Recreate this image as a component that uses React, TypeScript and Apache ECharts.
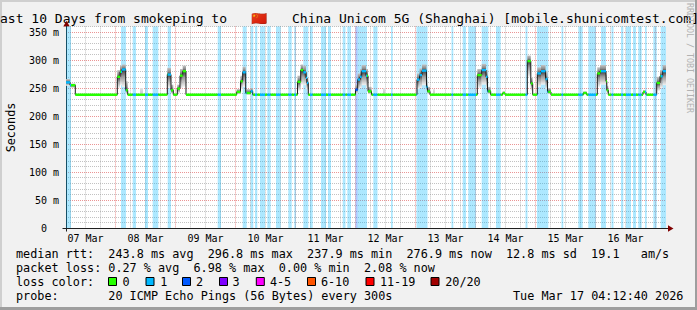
import React, { useEffect, useRef } from 'react';
import * as echarts from 'echarts';

// x axis: hours since Mar 7 00:00 (window: Mar 7 04:12:40 -> Mar 17 04:12:40)
const START_HOUR = 4.2111;
const END_HOUR = 244.2111;
const Y_MAX = 360;

const xLabelHours = [12, 36, 60, 84, 108, 132, 156, 180, 204, 228];
const xTickLabels = ['07 Mar', '08 Mar', '09 Mar', '10 Mar', '11 Mar', '12 Mar', '13 Mar', '14 Mar', '15 Mar', '16 Mar'];

// median RTT (ms), step values starting at each time
const medianTimes = [
  4.21, 5.81, 7.93, 24.73, 25.81, 26.61, 28.09, 28.89, 44.73, 46.21, 47.13, 48.73, 49.81, 50.89, 52.21,
  72.49, 74.01, 74.89, 76.09, 78.09, 78.89, 96.81, 98.09, 99.13, 100.21, 100.61, 101.13,
  120.01, 120.89, 121.81, 122.49, 124.21, 125.01, 126.41, 144.61, 145.61, 146.61, 148.41, 148.81, 149.81,
  168.73, 170.49, 172.21, 172.81, 174.09, 178.89, 179.81, 188.73, 190.13, 190.89, 192.73, 194.21, 196.01, 196.81, 198.21,
  211.13, 212.49, 216.73, 217.81, 220.21, 220.53, 221.13, 235.01, 236.21, 240.49, 241.81, 242.89,
];
const medianValues = [
  260, 255, 238, 270, 279, 283, 246, 238, 274, 246, 238, 249, 272, 280, 238,
  243, 262, 278, 241, 244, 238, 261, 282, 278, 268, 259, 238,
  247, 265, 270, 280, 272, 244, 238, 265, 273, 281, 252, 244, 238,
  273, 282, 270, 244, 238, 241, 238, 298, 258, 238, 276, 280, 266, 243, 238,
  241, 238, 276, 280, 262, 246, 238, 243, 238, 259, 271, 280,
];
// smoke (ping spread) around each median step; null = no visible smoke
const smokeHigh = [
  266, 258, null, 282, 290, 292, 262, null, 286, 256, null, 256, 284, 290, null,
  248, 272, 288, 248, 250, null, 272, 292, 290, 280, 268, null,
  256, 276, 284, 291, 284, 252, null, 276, 285, 292, 264, 252, null,
  284, 293, 282, 252, null, 244, null, 308, 268, null, 287, 291, 280, 250, null,
  244, null, 287, 291, 274, 254, null, 246, null, 270, 282, 291,
];
const smokeLow = [
  254, 250, null, 250, 255, 252, 240, null, 250, 240, null, 241, 250, 252, null,
  239, 248, 252, 238, 240, null, 245, 256, 255, 248, 244, null,
  240, 248, 250, 255, 250, 239, null, 248, 250, 255, 244, 239, null,
  250, 256, 250, 239, null, 239, null, 270, 245, null, 252, 256, 248, 239, null,
  239, null, 252, 256, 246, 240, null, 239, null, 245, 250, 255,
];
// isolated light smoke blips on the baseline
const blipStart = [33.8, 131.0, 151.0];
const blipEnd = [35.0, 131.8, 151.8];
const blipHigh = [250, 250, 248];

// packet-loss periods (background bands)
const lossStart = [
  4.21, 26.21, 30.89, 35.81, 38.89, 44.89, 64.89, 74.89, 78.09, 79.81, 81.81, 84.73, 88.21, 93.13, 95.53,
  99.13, 101.81, 106.21, 109.01, 114.89, 116.73, 120.01, 120.89, 127.13, 134.21, 144.41, 158.41, 162.89,
  165.13, 170.49, 176.21, 188.01, 192.61, 202.41, 209.13, 213.13, 218.21, 222.41, 226.21, 228.21, 231.01,
  233.13, 235.81, 239.13, 242.09,
];
const lossEnd = [
  6.21, 28.21, 32.21, 37.01, 41.13, 46.21, 66.21, 76.49, 79.13, 80.73, 83.81, 86.09, 90.09, 94.49, 96.21,
  101.13, 102.89, 108.21, 110.21, 116.01, 118.21, 120.89, 124.61, 128.81, 134.89, 148.81, 159.13, 164.21,
  168.21, 173.13, 178.09, 188.81, 197.13, 203.13, 210.89, 216.21, 220.21, 223.21, 227.13, 230.21, 232.21,
  234.49, 236.49, 240.49, 244.21,
];
const lossLevel = [
  1, 1, 1, 1, 1, 1, 1, 1, 1, 1, 1, 1, 1, 1, 1,
  1, 1, 1, 1, 1, 1, 2, 1, 1, 1, 1, 1, 1,
  1, 1, 1, 1, 1, 1, 1, 1, 1, 1, 1, 1, 1,
  1, 1, 1, 1,
];

const lossColors = ['#26ff00', '#00b8ff', '#0059ff', '#7e00ff', '#ff00ff', '#ff5500', '#ff0000', '#a10000'];
const lossBandColors = ['rgba(38,255,0,0.32)', 'rgba(0,184,255,0.32)', 'rgba(0,89,255,0.32)', 'rgba(126,0,255,0.32)',
  'rgba(255,0,255,0.32)', 'rgba(255,85,0,0.32)', 'rgba(255,0,0,0.32)', 'rgba(161,0,0,0.32)'];
const lossLabels = ['0', '1', '2', '3', '4-5', '6-10', '11-19', '20/20'];

const statsRow1: [number, string][] = [[0, 'median rtt:'], [13, '243.8 ms avg'], [27, '296.8 ms max'], [41, '237.9 ms min'],
  [55, '276.9 ms now'], [69, '12.8 ms sd'], [81, '19.1'], [88, 'am/s']];
const statsRow2: [number, string][] = [[0, 'packet loss:'], [13, '0.27 % avg'], [25, '6.98 % max'], [37, '0.00 % min'], [49, '2.08 % now']];
const statsRow4: [number, string][] = [[0, 'probe:'], [13, '20 ICMP Echo Pings (56 Bytes) every 300s'], [70, 'Tue Mar 17 04:12:40 2026']];

const TITLE_LEFT = 'Last 10 Days from smokeping to';
const TITLE_FLAG = '🇨🇳';
const TITLE_RIGHT = 'China Unicom 5G (Shanghai) [mobile.shunicomtest.com]';

const MONO = '"DejaVu Sans Mono", monospace';
const MINOR = 'rgba(143,143,143,0.55)';
const MAJOR = 'rgba(222,79,79,0.6)';

function levelAt(t: number): number {
  for (let i = 0; i < lossStart.length; i++) {
    if (t >= lossStart[i] && t < lossEnd[i]) return lossLevel[i];
  }
  return 0;
}

function buildOption() {
  const nextTime = (i: number) => (i + 1 < medianTimes.length ? medianTimes[i + 1] : END_HOUR);

  const lineData: number[][] = medianTimes.map((t, i) => [t, medianValues[i]]);
  lineData.push([END_HOUR, medianValues[medianValues.length - 1]]);

  // coloured median pieces split at loss band boundaries
  const pieces: number[][] = [];
  medianTimes.forEach((t0, i) => {
    const t1 = nextTime(i);
    const cuts = [t0, t1];
    lossStart.concat(lossEnd).forEach((b) => { if (b > t0 && b < t1) cuts.push(b); });
    cuts.sort((a, b) => a - b);
    for (let k = 0; k < cuts.length - 1; k++) {
      const a = cuts[k], b = cuts[k + 1];
      if (b - a <= 0) continue;
      pieces.push([a, b, medianValues[i], levelAt((a + b) / 2)]);
    }
  });

  const smoke: number[][] = [];
  medianTimes.forEach((t0, i) => {
    const hi = smokeHigh[i], lo = smokeLow[i];
    if (hi == null || lo == null) return;
    smoke.push([t0, nextTime(i), lo, hi, medianValues[i]]);
  });
  const blips = blipStart.map((s, i) => [s, blipEnd[i], blipHigh[i]]);

  const bands = lossStart.map((s, i) => [s, lossEnd[i], lossLevel[i]]);

  const gridHours: number[][] = [];
  for (let h = 6; h < END_HOUR; h += 6) gridHours.push([h, h % 24 === 0 ? 1 : 0]);

  const graphic: any[] = [];
  // frame shading
  graphic.push({ type: 'rect', shape: { x: 0, y: 0, width: 697, height: 2 }, style: { fill: '#cfcfcf' }, silent: true });
  graphic.push({ type: 'rect', shape: { x: 0, y: 0, width: 2, height: 310 }, style: { fill: '#cfcfcf' }, silent: true });
  graphic.push({ type: 'rect', shape: { x: 695, y: 0, width: 2, height: 310 }, style: { fill: '#9e9e9e' }, silent: true });
  graphic.push({ type: 'rect', shape: { x: 0, y: 307, width: 697, height: 3 }, style: { fill: '#9e9e9e' }, silent: true });
  // title (clipped on both sides like the original)
  graphic.push({ type: 'text', x: -7.8, y: 18.8, silent: true,
    style: {
      text: `{a|${TITLE_LEFT}}{f|${TITLE_FLAG}}{a|${TITLE_RIGHT}}`,
      font: `13px ${MONO}`, fill: '#000', align: 'left', verticalAlign: 'middle',
      rich: {
        a: { fontFamily: MONO, fontSize: 13, fill: '#000' },
        f: { fontFamily: MONO, fontSize: 13, width: 65, align: 'center' },
      },
    } });
  // y axis name
  graphic.push({ type: 'text', x: 11, y: 127.5, rotation: Math.PI / 2, silent: true,
    style: { text: 'Seconds', font: `11.8px ${MONO}`, fill: '#000', align: 'center', verticalAlign: 'middle' } });
  // watermark
  graphic.push({ type: 'text', x: 689.5, y: 58, rotation: -Math.PI / 2, silent: true,
    style: { text: 'RRDTOOL / TOBI OETIKER', font: `8.3px ${MONO}`, fill: '#b2b2b2', align: 'center', verticalAlign: 'middle' } });
  // axis extensions and arrows
  graphic.push({ type: 'line', shape: { x1: 62.5, y1: 228.5, x2: 669, y2: 228.5 }, style: { stroke: '#1f1f1f', lineWidth: 1 }, silent: true });
  graphic.push({ type: 'line', shape: { x1: 66.5, y1: 231.5, x2: 66.5, y2: 22 }, style: { stroke: '#1f1f1f', lineWidth: 1 }, silent: true });
  graphic.push({ type: 'polygon', shape: { points: [[668, 225.3], [673.5, 228.5], [668, 231.7]] }, style: { fill: '#800000' }, silent: true });
  graphic.push({ type: 'polygon', shape: { points: [[63.3, 26.5], [66.5, 20.8], [69.7, 26.5]] }, style: { fill: '#800000' }, silent: true });

  const CH = 7.1;
  const rowY = [253.7, 267.7, 281.7, 295.7];
  const addRow = (row: [number, string][], y: number) => {
    row.forEach(([col, txt]) => {
      graphic.push({ type: 'text', x: 16 + col * CH, y, silent: true,
        style: { text: txt, font: `11.8px ${MONO}`, fill: '#000', align: 'left', verticalAlign: 'middle' } });
    });
  };
  addRow(statsRow1, rowY[0]);
  addRow(statsRow2, rowY[1]);
  addRow([[0, 'loss color:']], rowY[2]);
  addRow(statsRow4, rowY[3]);
  const boxX = [108, 145.5, 182, 219, 255.8, 307, 365.5, 430.5];
  const labX = [122.5, 160.2, 195.9, 232.5, 269.9, 320.9, 379.9, 445.2];
  lossLabels.forEach((lab, i) => {
    graphic.push({ type: 'rect', shape: { x: boxX[i] + 0.5, y: 277.5, width: 8, height: 8 }, silent: true,
      style: { fill: lossColors[i], stroke: '#000', lineWidth: 1 } });
    graphic.push({ type: 'text', x: labX[i], y: rowY[2], silent: true,
      style: { text: lab, font: `11.8px ${MONO}`, fill: '#000', align: 'left', verticalAlign: 'middle' } });
  });

  return {
    animation: false,
    backgroundColor: '#f1f1f1',
    grid: { left: 66, right: 31, top: 26.4, bottom: 82, show: true, backgroundColor: '#ffffff', borderWidth: 0, containLabel: false },
    xAxis: {
      type: 'value', min: START_HOUR, max: END_HOUR,
      axisLine: { show: true, onZero: false, lineStyle: { color: '#1f1f1f', width: 1 } },
      axisTick: { show: false },
      splitLine: { show: false },
      axisLabel: {
        customValues: xLabelHours,
        formatter: (v: number) => {
          const idx = xLabelHours.indexOf(Math.round(v));
          return idx >= 0 ? xTickLabels[idx] : '';
        },
        fontFamily: MONO, fontSize: 10, color: '#000', margin: 5,
      },
    },
    yAxis: {
      type: 'value', min: 0, max: Y_MAX, interval: 10,
      axisLine: { show: true, lineStyle: { color: '#1f1f1f', width: 1 } },
      axisTick: { show: false },
      axisLabel: {
        formatter: (v: number) => (v % 50 === 0 ? (v === 0 ? '0  ' : `${v} m`) : ''),
        fontFamily: MONO, fontSize: 10, color: '#000', margin: 7,
      },
      splitLine: { show: true, lineStyle: { color: [MAJOR, MINOR, MINOR, MINOR, MINOR], type: [1, 1], width: 1 } },
    },
    series: [
      {
        type: 'custom', name: 'vgrid', silent: true, z: 1, data: gridHours,
        renderItem: (_p: any, api: any) => {
          const h = api.value(0);
          const top = api.coord([h, Y_MAX]);
          const bot = api.coord([h, 0]);
          const x = Math.round(top[0]) + 0.5;
          return { type: 'line', shape: { x1: x, y1: top[1], x2: x, y2: bot[1] },
            style: { stroke: api.value(1) ? MAJOR : MINOR, lineWidth: 1, lineDash: [1, 1] } };
        },
      },
      {
        type: 'custom', name: 'loss', silent: true, z: 2, data: bands,
        renderItem: (_p: any, api: any) => {
          const p0 = api.coord([api.value(0), Y_MAX]);
          const p1 = api.coord([api.value(1), 0]);
          return { type: 'rect', shape: { x: p0[0], y: p0[1], width: Math.max(1, p1[0] - p0[0]), height: p1[1] - p0[1] },
            style: { fill: lossBandColors[api.value(2)] } };
        },
      },
      {
        type: 'custom', name: 'blips', silent: true, z: 3, data: blips,
        renderItem: (_p: any, api: any) => {
          const p0 = api.coord([api.value(0), api.value(2)]);
          const p1 = api.coord([api.value(1), 239]);
          return { type: 'rect', shape: { x: p0[0], y: p0[1], width: p1[0] - p0[0], height: p1[1] - p0[1] },
            style: { fill: new echarts.graphic.LinearGradient(0, 0, 0, 1, [
              { offset: 0, color: '#e4e4e4' }, { offset: 1, color: '#c8c8c8' }]) } };
        },
      },
      {
        type: 'custom', name: 'smoke', silent: true, z: 3, data: smoke,
        renderItem: (_p: any, api: any) => {
          const t0 = api.value(0), t1 = api.value(1), lo = api.value(2), hi = api.value(3), med = api.value(4);
          const p0 = api.coord([t0, hi]);
          const p1 = api.coord([t1, lo]);
          const f = Math.min(0.95, Math.max(0.05, (hi - med) / (hi - lo)));
          return { type: 'rect', shape: { x: p0[0], y: p0[1], width: p1[0] - p0[0], height: p1[1] - p0[1] },
            style: { fill: new echarts.graphic.LinearGradient(0, 0, 0, 1, [
              { offset: 0, color: '#c4c4c4' },
              { offset: f * 0.6, color: '#8a8a8a' },
              { offset: f, color: '#3a3a3a' },
              { offset: f + (1 - f) * 0.4, color: '#9a9a9a' },
              { offset: 1, color: '#f2f2f2' }]) } };
        },
      },
      {
        type: 'line', name: 'median', silent: true, z: 4, step: 'end', symbol: 'none', data: lineData,
        lineStyle: { color: '#1a1a1a', width: 1 },
      },
      {
        type: 'custom', name: 'medianLoss', silent: true, z: 5, data: pieces,
        renderItem: (_p: any, api: any) => {
          const p0 = api.coord([api.value(0), api.value(2)]);
          const p1 = api.coord([api.value(1), api.value(2)]);
          return { type: 'rect', shape: { x: p0[0], y: p0[1] - 1.2, width: p1[0] - p0[0], height: 2.4 },
            style: { fill: lossColors[api.value(3)] } };
        },
      },
    ],
    graphic,
  };
}

export default function App() {
  const ref = useRef<HTMLDivElement>(null);
  useEffect(() => {
    if (!ref.current) return;
    const chart = echarts.init(ref.current, null, { renderer: 'svg', width: 697, height: 310 });
    chart.setOption(buildOption() as any);
    return () => chart.dispose();
  }, []);
  return <div ref={ref} style={{ position: 'absolute', left: 0, top: 0, width: 697, height: 310 }} />;
}
